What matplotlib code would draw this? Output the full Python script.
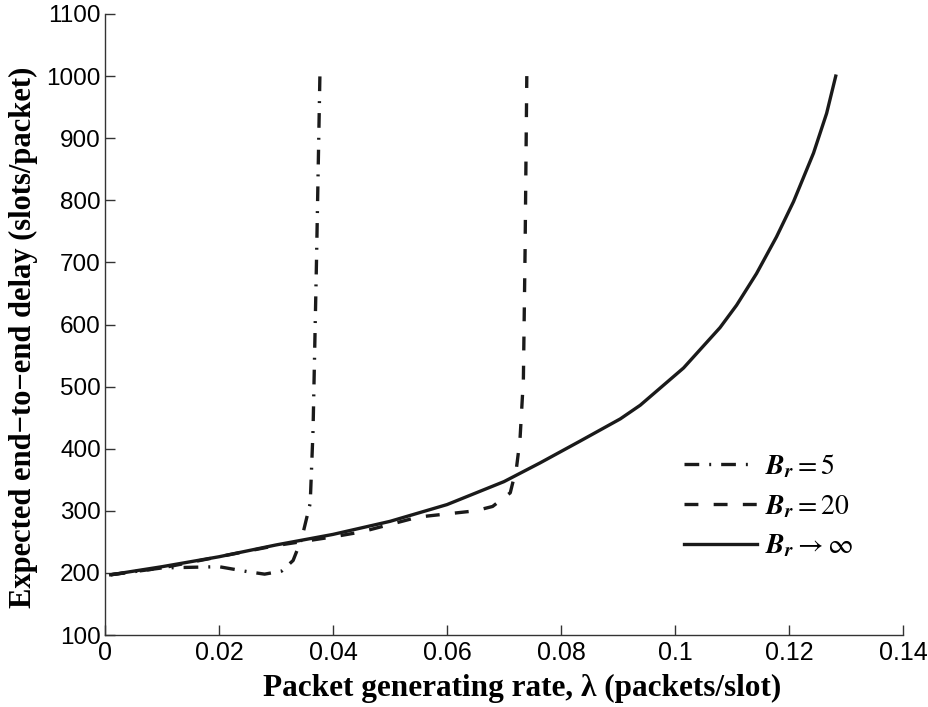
import matplotlib
matplotlib.use('Agg')
import matplotlib.pyplot as plt
from matplotlib import font_manager as fm

# ---------------- data ----------------
x_inf = [0.001, 0.01, 0.02, 0.03, 0.04, 0.05, 0.06, 0.07, 0.0763, 0.0833,
         0.0904, 0.0939, 0.1015, 0.1079, 0.1108, 0.1143, 0.1178, 0.1208,
         0.1243, 0.1266, 0.1282]
y_inf = [197, 210, 226, 245, 262, 283, 310, 347, 377, 412,
         448, 470, 530, 595, 631, 682, 741, 798,
         876, 940, 1000]

x_b5 = [0.001, 0.01, 0.02, 0.025, 0.028, 0.031, 0.033, 0.0345, 0.036,
        0.0365, 0.0371, 0.0377]
y_b5 = [197, 208, 210, 202, 198, 203, 220, 255, 312, 430, 700, 1000]

x_b20 = [0.001, 0.01, 0.02, 0.03, 0.04, 0.045, 0.05, 0.055, 0.06, 0.065,
         0.068, 0.0711, 0.0722, 0.0728, 0.0734, 0.0737, 0.0740]
y_b20 = [197, 208, 226, 244, 258, 266, 278, 290, 295, 300, 307, 329, 370,
         414, 511, 720, 1000]

xticks = [0, 0.02, 0.04, 0.06, 0.08, 0.10, 0.12, 0.14]
xtick_labels = ['0', '0.02', '0.04', '0.06', '0.08', '0.1', '0.12', '0.14']
yticks = [100, 200, 300, 400, 500, 600, 700, 800, 900, 1000, 1100]
ytick_labels = [str(v) for v in yticks]

labels = [r'$\mathbfit{B_r} = 5$', r'$\mathbfit{B_r} = 20$',
          r'$\mathbfit{B_r} \rightarrow \infty$']
xlabel = 'Packet generating rate, λ (packets/slot)'
ylabel = 'Expected end−to−end delay (slots/packet)'

# ---------------- style ----------------
names = {f.name for f in fm.fontManager.ttflist}
narrow = 'Liberation Sans Narrow' if 'Liberation Sans Narrow' in names else 'Liberation Sans'

plt.rcParams['mathtext.fontset'] = 'stix'
plt.rcParams['lines.scale_dashes'] = False

fig = plt.figure(figsize=(9.29, 7.07), dpi=100)
ax = fig.add_axes([105/929, 72/707, 798/929, 621/707])

lw = 2.4
col = '#1a1a1a'
ax.plot(x_b5, y_b5, color=col, lw=lw, dashes=(10.6, 7.2, 1.4, 7.2),
        dash_capstyle='butt', label=labels[0])
ax.plot(x_b20, y_b20, color=col, lw=lw, dashes=(10, 11),
        dash_capstyle='butt', label=labels[1])
ax.plot(x_inf, y_inf, color=col, lw=lw, label=labels[2])

ax.set_xlim(0, 0.14)
ax.set_ylim(100, 1100)
ax.set_xticks(xticks)
ax.set_xticklabels(xtick_labels, fontfamily=narrow, fontsize=18)
ax.set_yticks(yticks)
ax.set_yticklabels(ytick_labels, fontfamily='Liberation Sans', fontsize=17.5)
ax.tick_params(direction='in', length=7, width=1, color='#333333', pad=4)
ax.tick_params(axis='y', pad=3)

for s in ['top', 'right']:
    ax.spines[s].set_visible(False)
for s in ['left', 'bottom']:
    ax.spines[s].set_linewidth(1.0)
    ax.spines[s].set_color('#333333')

ax.set_xlabel(xlabel, fontfamily='Liberation Serif', fontweight='bold',
              fontsize=22.5)
ax.set_ylabel(ylabel, fontfamily='Liberation Serif', fontweight='bold',
              fontsize=22)
ax.xaxis.set_label_coords((522 - 105) / 798, -0.062)
ax.yaxis.set_label_coords(-0.084, (635 - 337) / 621)

leg = ax.legend(loc='upper left', bbox_to_anchor=(684/929, 1 - 452/707),
                bbox_transform=fig.transFigure, frameon=False,
                prop={'size': 20}, handlelength=2.63, handletextpad=0.3,
                labelspacing=0.42, borderpad=0, borderaxespad=0)

fig.savefig('out.png', dpi=100)
